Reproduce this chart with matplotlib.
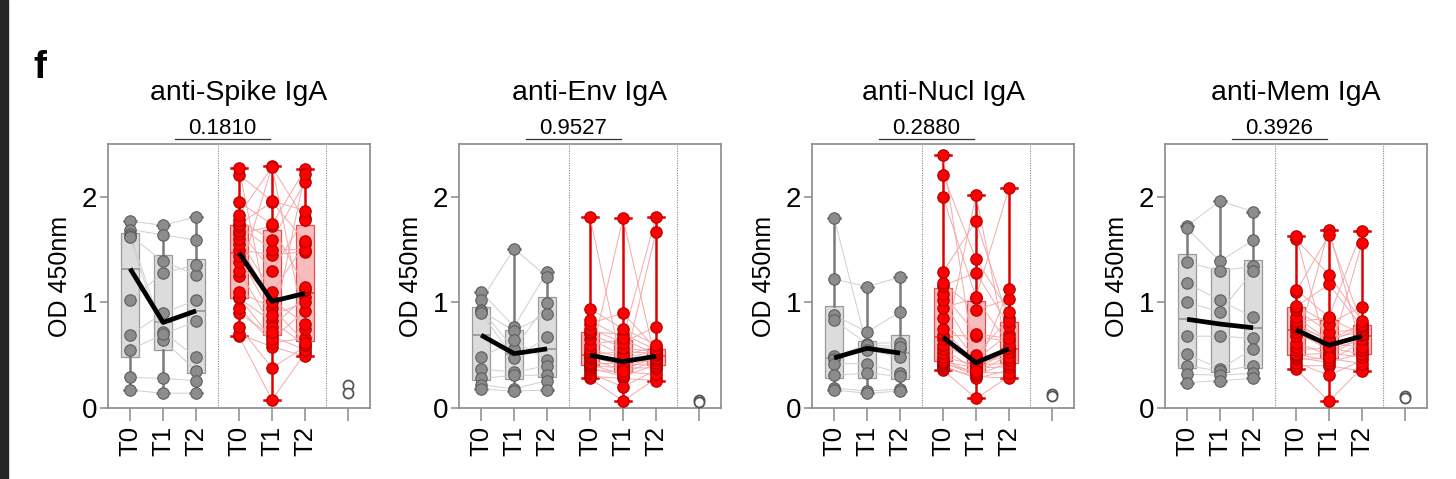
import numpy as np
import matplotlib
matplotlib.use('Agg')
import matplotlib.pyplot as plt
from matplotlib.patches import Rectangle

plt.rcParams['font.family'] = ['Liberation Sans', 'DejaVu Sans']

panel_titles = ['anti-Spike IgA', 'anti-Env IgA', 'anti-Nucl IgA', 'anti-Mem IgA']
p_values = ['0.1810', '0.9527', '0.2880', '0.3926']
tick_labels = ['T0', 'T1', 'T2', 'T0', 'T1', 'T2', '']

# grey group, 10 subjects, listed in subject order (T0, T1, T2)
spike_grey = [[1.77, 1.69, 1.65, 1.63, 1.62, 1.02, 0.69, 0.55, 0.29, 0.17],
              [1.73, 1.64, 0.72, 1.39, 0.64, 1.28, 0.90, 0.70, 0.28, 0.14],
              [1.81, 1.59, 0.48, 1.26, 0.355, 1.355, 1.02, 0.82, 0.26, 0.14]]
env_grey = [[1.10, 1.02, 0.93, 0.92, 0.90, 0.48, 0.37, 0.28, 0.22, 0.18],
            [0.77, 1.51, 0.56, 0.73, 0.47, 0.64, 0.34, 0.31, 0.18, 0.16],
            [1.29, 1.24, 0.99, 0.89, 0.67, 0.45, 0.40, 0.31, 0.26, 0.17]]
nucl_grey = [[1.80, 1.22, 0.88, 0.83, 0.49, 0.46, 0.42, 0.31, 0.19, 0.17],
             [0.58, 1.15, 0.72, 0.61, 0.60, 0.55, 0.42, 0.33, 0.16, 0.14],
             [0.56, 1.24, 0.91, 0.62, 0.58, 0.48, 0.33, 0.30, 0.18, 0.16]]
mem_grey = [[1.725, 1.70, 1.38, 1.18, 1.00, 0.68, 0.51, 0.40, 0.32, 0.24],
            [1.96, 1.39, 1.30, 1.02, 0.91, 0.68, 0.37, 0.35, 0.31, 0.26],
            [1.86, 1.59, 1.34, 0.86, 1.30, 0.66, 0.56, 0.40, 0.33, 0.28]]

# red group, 24 subjects, values per time point (ascending)
spike_red = [[0.68, 0.70, 0.77, 0.90, 0.95, 1.04, 1.05, 1.10, 1.25, 1.30, 1.38, 1.44,
              1.50, 1.55, 1.60, 1.65, 1.68, 1.72, 1.74, 1.78, 1.83, 1.95, 2.21, 2.27],
             [0.076, 0.38, 0.58, 0.62, 0.65, 0.68, 0.72, 0.77, 0.82, 0.88, 0.95, 1.00,
              1.02, 1.10, 1.30, 1.45, 1.50, 1.59, 1.72, 1.74, 1.95, 1.96, 2.28, 2.29],
             [0.49, 0.52, 0.55, 0.58, 0.60, 0.62, 0.66, 0.75, 0.80, 0.92, 1.00, 1.05,
              1.12, 1.15, 1.48, 1.50, 1.55, 1.58, 1.78, 1.80, 1.87, 2.14, 2.22, 2.26]]
env_red = [[0.28, 0.30, 0.33, 0.36, 0.38, 0.40, 0.41, 0.42, 0.44, 0.46, 0.48, 0.49,
            0.51, 0.53, 0.56, 0.60, 0.65, 0.70, 0.72, 0.75, 0.80, 0.83, 0.94, 1.81],
           [0.066, 0.20, 0.28, 0.30, 0.32, 0.34, 0.35, 0.36, 0.38, 0.40, 0.42, 0.43,
            0.45, 0.47, 0.50, 0.53, 0.57, 0.62, 0.65, 0.66, 0.70, 0.75, 0.90, 1.80],
           [0.26, 0.28, 0.32, 0.36, 0.38, 0.40, 0.41, 0.43, 0.45, 0.46, 0.47, 0.48,
            0.50, 0.51, 0.52, 0.53, 0.54, 0.55, 0.56, 0.58, 0.60, 0.77, 1.67, 1.81]]
nucl_red = [[0.36, 0.38, 0.40, 0.42, 0.43, 0.44, 0.45, 0.48, 0.52, 0.56, 0.60, 0.65,
             0.69, 0.75, 0.85, 0.95, 1.02, 1.08, 1.16, 1.18, 1.29, 2.00, 2.21, 2.40],
            [0.09, 0.28, 0.30, 0.31, 0.33, 0.34, 0.35, 0.36, 0.38, 0.40, 0.41, 0.42,
             0.44, 0.46, 0.50, 0.68, 0.70, 0.93, 1.04, 1.05, 1.28, 1.41, 1.77, 2.02],
            [0.28, 0.30, 0.33, 0.36, 0.39, 0.42, 0.43, 0.45, 0.48, 0.50, 0.53, 0.55,
             0.57, 0.60, 0.63, 0.66, 0.70, 0.78, 0.82, 0.85, 0.91, 1.03, 1.13, 2.08]]
mem_red = [[0.37, 0.40, 0.43, 0.46, 0.48, 0.50, 0.51, 0.55, 0.58, 0.62, 0.68, 0.72,
            0.76, 0.78, 0.80, 0.82, 0.86, 0.93, 0.96, 0.97, 1.10, 1.12, 1.60, 1.63],
           [0.063, 0.31, 0.40, 0.43, 0.45, 0.47, 0.48, 0.50, 0.52, 0.55, 0.57, 0.58,
            0.61, 0.63, 0.64, 0.66, 0.72, 0.80, 0.85, 0.86, 1.17, 1.26, 1.64, 1.69],
           [0.35, 0.38, 0.42, 0.45, 0.48, 0.51, 0.52, 0.55, 0.58, 0.62, 0.65, 0.67,
            0.69, 0.70, 0.72, 0.74, 0.76, 0.77, 0.79, 0.80, 0.82, 0.96, 1.56, 1.68]]

# which T1 / T2 rank belongs to each T0 rank (subject pairing of the red group)
red_pair_t1 = [0, 2, 1, 5, 3, 8, 4, 10, 23, 7, 12, 9, 15, 11, 13, 18, 14, 16, 20, 17, 22, 19, 21, 6]
red_pair_t2 = [1, 0, 3, 2, 6, 4, 9, 5, 7, 11, 8, 10, 14, 12, 16, 13, 19, 15, 17, 21, 18, 23, 20, 22]

# healthy controls (open circles)
spike_ctrl = [0.22, 0.14]
env_ctrl = [0.08, 0.06]
nucl_ctrl = [0.13, 0.11]
mem_ctrl = [0.11, 0.09]

grey_data = [spike_grey, env_grey, nucl_grey, mem_grey]
red_data = [spike_red, env_red, nucl_red, mem_red]
ctrl_data = [spike_ctrl, env_ctrl, nucl_ctrl, mem_ctrl]

grey_pos = [0, 1, 2]
red_pos = [3.3, 4.3, 5.3]
ctrl_pos = 6.6
frame_col = '#8a8a8a'


def box_stats(v):
    q1, med, q3 = np.percentile(v, [25, 50, 75], method='weibull')
    return dict(med=med, q1=q1, q3=q3, whislo=min(v), whishi=max(v), fliers=[])


def draw_group(ax, series, pos, face, edge, box_face, box_edge, whisk, line_col, capw):
    stats = [box_stats(s) for s in series]
    ax.bxp(stats, positions=pos, widths=0.55, patch_artist=True, showfliers=False,
           manage_ticks=False, capwidths=capw, zorder=1,
           boxprops=dict(facecolor=box_face, edgecolor=box_edge, linewidth=0.9),
           whiskerprops=dict(color=whisk, linewidth=1.8),
           capprops=dict(color=whisk, linewidth=1.8),
           medianprops=dict(color=box_edge, linewidth=1.3))
    subj = np.array(series).T
    for row in subj:
        ax.plot(pos, row, color=line_col, lw=0.7, zorder=2)
    for p, s in zip(pos, series):
        ax.scatter(np.full(len(s), p), s, s=68, c=face, edgecolors=edge,
                   linewidths=0.8, zorder=3, clip_on=False)
    ax.plot(pos, [st['med'] for st in stats], color='black', lw=3.4, zorder=5,
            solid_capstyle='butt')


fig = plt.figure(figsize=(14.56, 4.79), dpi=100)
fig.patches.append(Rectangle((0, 0), 8 / 1456, 1, transform=fig.transFigure,
                             color='#262626', zorder=0))
fig.text(40 / 1456, 1 - 78 / 479, 'f', fontsize=28, fontweight='bold',
         ha='center', va='baseline')

lefts = [108, 459, 812, 1165]
for i, left in enumerate(lefts):
    ax = fig.add_axes([left / 1456, 71 / 479, 262 / 1456, 264 / 479])

    red_series = red_data[i]
    red_subj = [sorted(red_series[0]),
                [red_series[1][k] for k in red_pair_t1],
                [red_series[2][k] for k in red_pair_t2]]

    draw_group(ax, grey_data[i], grey_pos, '#8c8c8c', '#5e5e5e', '#dcdcdc', '#9a9a9a',
               '#7a7a7a', '#cfcfcf', 0.35)
    draw_group(ax, red_subj, red_pos, '#ff0000', '#b00000', '#f8bcbc', '#e05050',
               '#e00000', '#f4a8a8', 0.5)

    ax.scatter(np.full(len(ctrl_data[i]), ctrl_pos), ctrl_data[i], s=52,
               facecolors='white', edgecolors='#555555', linewidths=1.3, zorder=3)

    for xv in [2.65, 5.95]:
        ax.axvline(xv, color='#8a8a8a', ls=(0, (1, 1.2)), lw=0.8, zorder=0)

    ax.set_xlim(-0.67, 7.27)
    ax.set_ylim(0, 2.5)
    ax.set_yticks([0, 1, 2])
    ax.set_yticklabels(['0', '1', '2'], fontsize=20)
    ax.set_xticks(grey_pos + red_pos + [ctrl_pos])
    ax.set_xticklabels(tick_labels, rotation=90, fontsize=18.5)
    ax.tick_params(axis='y', length=6, width=1.1, color=frame_col, pad=2)
    ax.tick_params(axis='x', length=9, width=1.1, color=frame_col, pad=4)
    for sp in ax.spines.values():
        sp.set_color(frame_col)
        sp.set_linewidth(1.2)

    ax.text(-0.183, 0.5, 'OD 450nm', rotation=90, fontsize=18, ha='center',
            va='center', transform=ax.transAxes)
    ax.text(0.5, 1.167, panel_titles[i], fontsize=20.5, ha='center', va='baseline',
            transform=ax.transAxes)
    trans = ax.get_xaxis_transform()
    ax.plot([1.35, 4.25], [1.019, 1.019], color='#333333', lw=0.9,
            transform=trans, clip_on=False)
    ax.text(2.8, 1.038, p_values[i], fontsize=16, ha='center', va='baseline',
            transform=trans)

fig.savefig('out.png', dpi=100)
